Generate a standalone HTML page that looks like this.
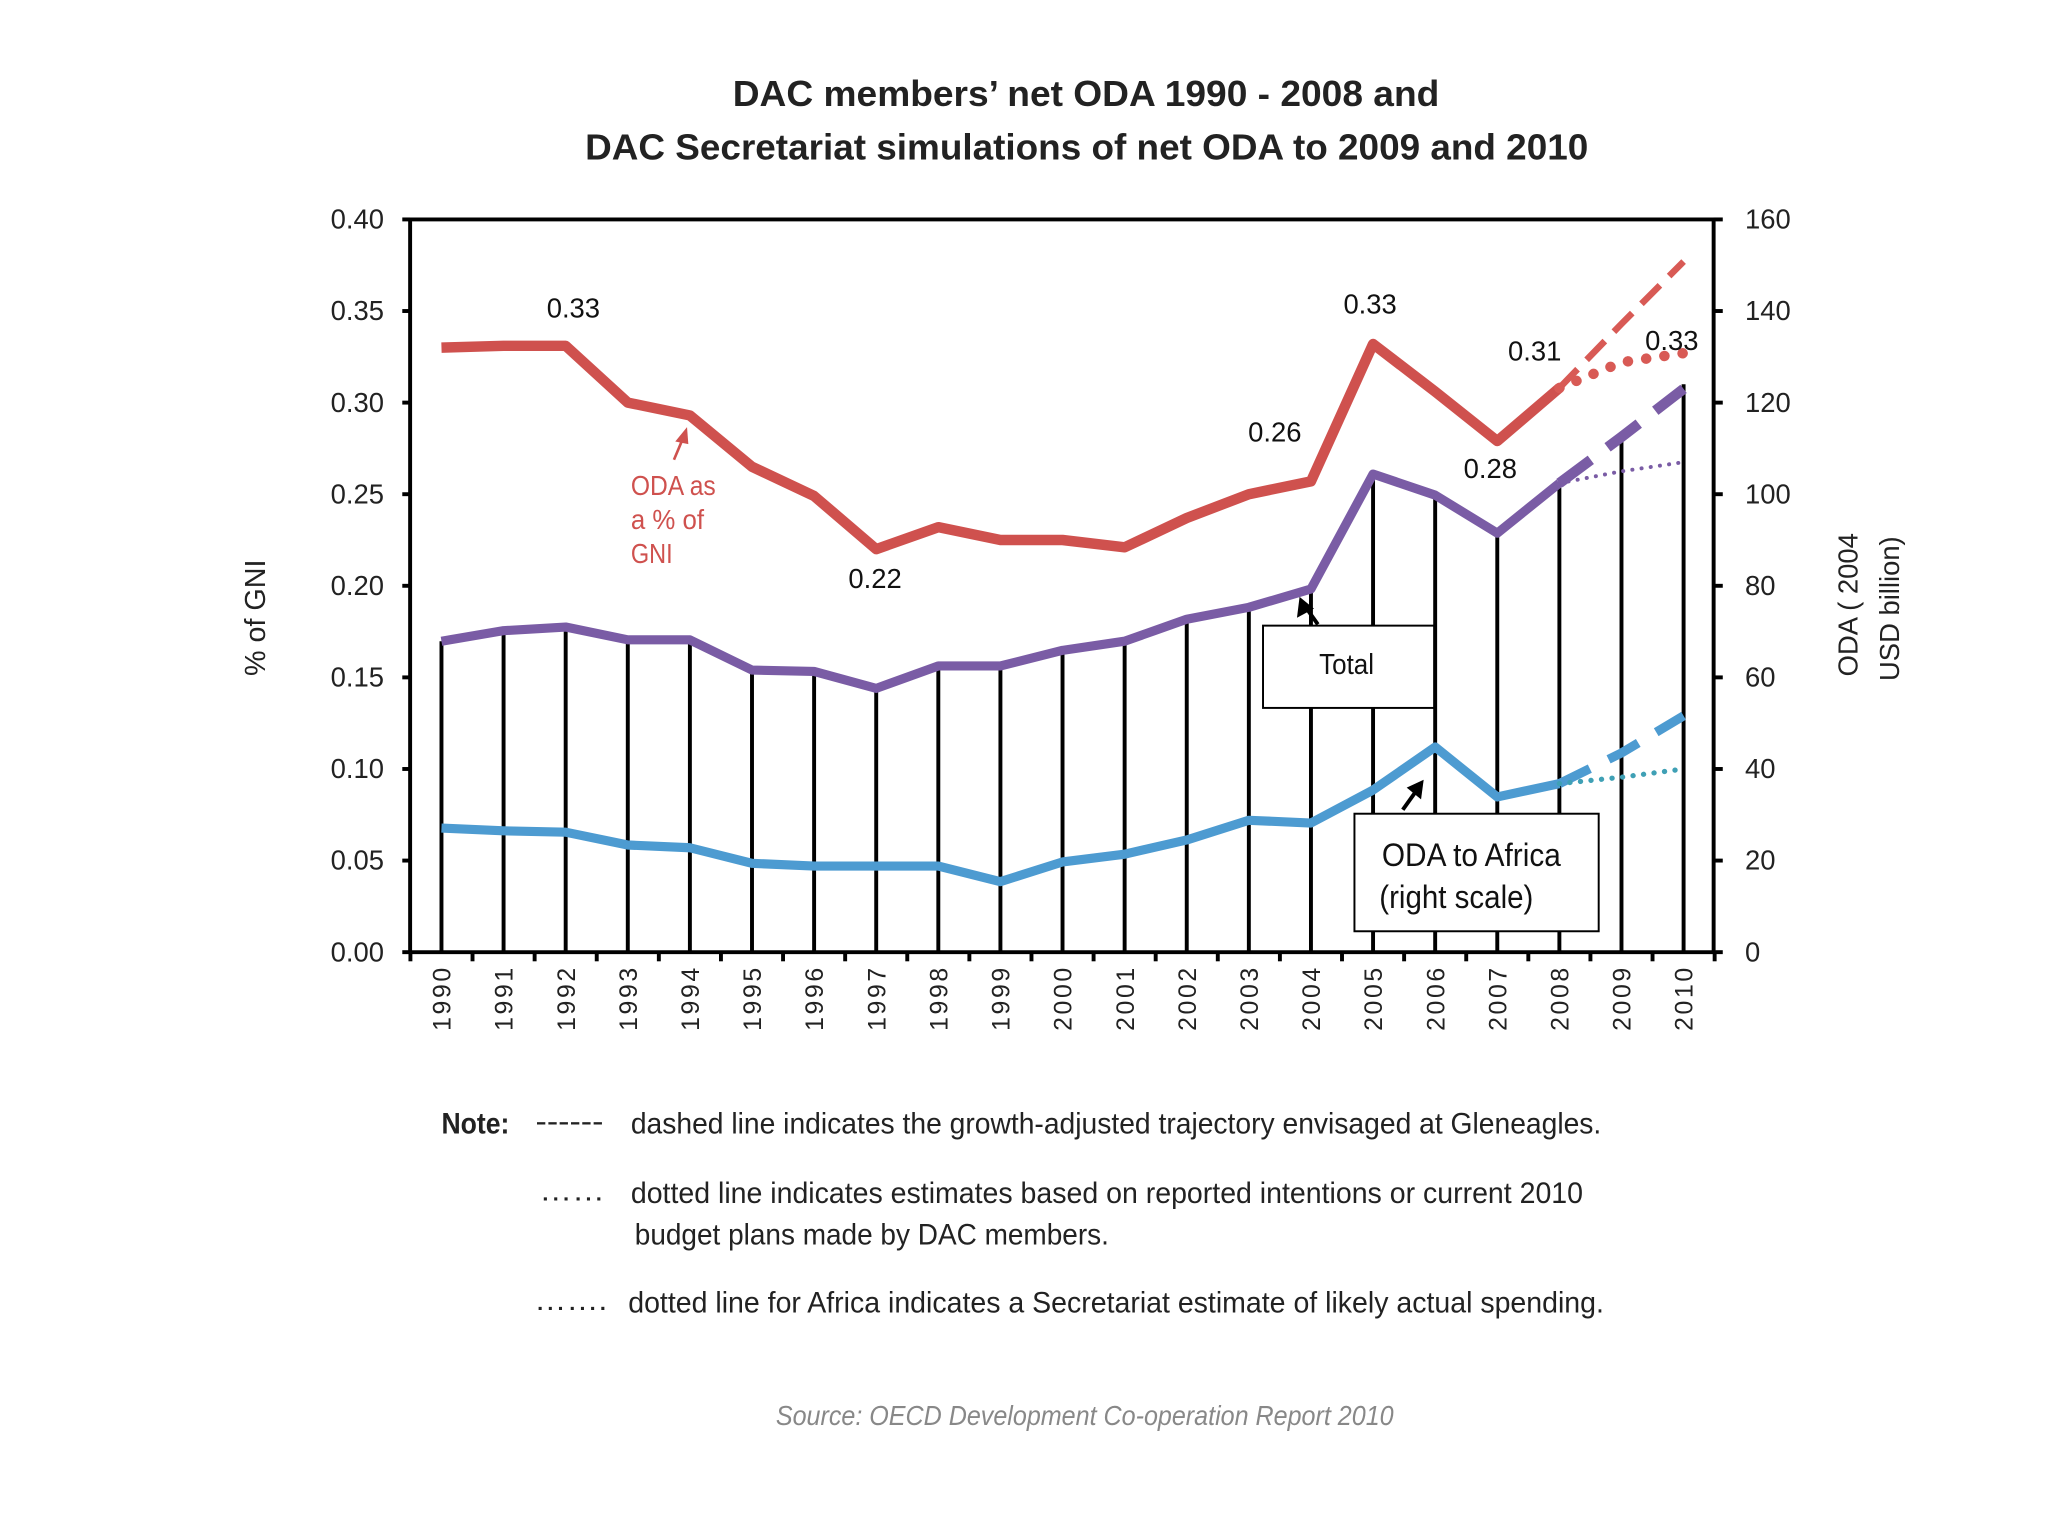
<!DOCTYPE html>
<html><head><meta charset="utf-8"><style>
html,body{margin:0;padding:0;background:#fff;}
svg{display:block;}
text{font-family:"Liberation Sans Narrow","Liberation Sans",sans-serif;}
</style></head><body>
<svg id="chart" width="2048" height="1536" viewBox="0 0 1568 1176" xmlns="http://www.w3.org/2000/svg">
<rect width="1568" height="1176" fill="#fff"/>
<g id="titles">
<text x="561" y="81" textLength="541" lengthAdjust="spacingAndGlyphs" font-size="28" font-weight="bold" fill="#222">DAC members’ net ODA 1990 - 2008 and</text>
<text x="448" y="122" textLength="768" lengthAdjust="spacingAndGlyphs" font-size="28" font-weight="bold" fill="#222">DAC Secretariat simulations of net ODA to 2009 and 2010</text>
<text transform="translate(203,473) rotate(-90)" text-anchor="middle" font-size="22" font-family="Liberation Sans" fill="#222">% of GNI</text>
<text transform="translate(1422,463) rotate(-90)" text-anchor="middle" font-size="21" font-family="Liberation Sans" fill="#222">ODA ( 2004</text>
<text transform="translate(1454,466) rotate(-90)" text-anchor="middle" font-size="21" font-family="Liberation Sans" fill="#222">USD billion)</text>
</g>
<g id="plot"></g>
<g id="notes" fill="#222" font-size="23">
<text x="338" y="868" textLength="52" lengthAdjust="spacingAndGlyphs" font-weight="bold">Note:</text>
<text x="410" y="866" textLength="52" lengthAdjust="spacingAndGlyphs">------</text>
<text x="483" y="868" textLength="743" lengthAdjust="spacingAndGlyphs">dashed line indicates the growth-adjusted trajectory envisaged at Gleneagles.</text>
<text x="413" y="919" textLength="50" lengthAdjust="spacingAndGlyphs">……</text>
<text x="483" y="921" textLength="729" lengthAdjust="spacingAndGlyphs">dotted line indicates estimates based on reported intentions or current 2010</text>
<text x="486" y="953" textLength="363" lengthAdjust="spacingAndGlyphs">budget plans made by DAC members.</text>
<text x="409" y="1003" textLength="56" lengthAdjust="spacingAndGlyphs">…….</text>
<text x="481" y="1005" textLength="747" lengthAdjust="spacingAndGlyphs">dotted line for Africa indicates a Secretariat estimate of likely actual spending.</text>
<text x="594" y="1091" textLength="473" lengthAdjust="spacingAndGlyphs" font-size="21" font-style="italic" fill="#888">Source: OECD Development Co-operation Report 2010</text>
</g>
</svg>
<script>
const years = [1990,1991,1992,1993,1994,1995,1996,1997,1998,1999,2000,2001,2002,2003,2004,2005,2006,2007,2008,2009,2010];
const gniPct = [0.330,0.331,0.331,0.300,0.293,0.265,0.249,0.220,0.232,0.225,0.225,0.221,0.237,0.250,0.257,0.332,0.306,0.279,0.308];
const gniDashed = [0.308,0.343,0.377];
const gniDotted = [0.308,0.322,0.327];
const totalOda = [67.9,70.2,71.0,68.2,68.2,61.6,61.3,57.6,62.5,62.5,65.9,67.9,72.7,75.3,79.3,104.4,99.8,91.5,102.4];
const totalDashed = [102.4,112.5,123.0];
const totalDotted = [102.4,105.0,107.0];
const barValues = [67.9,70.2,71.0,68.2,68.2,61.6,61.3,57.6,62.5,62.5,65.9,67.9,72.7,75.3,79.3,104.4,99.8,91.5,102.4,112.0,124.0];
const africaOda = [27.1,26.5,26.2,23.4,22.8,19.4,18.8,18.8,18.8,15.4,19.7,21.4,24.5,28.8,28.2,35.4,44.8,33.9,36.8];
const africaDashed = [36.8,43.5,51.6];
const africaDotted = [36.8,38.2,40.0];
const leftTicks = ["0.00","0.05","0.10","0.15","0.20","0.25","0.30","0.35","0.40"];
const rightTicks = ["0","20","40","60","80","100","120","140","160"];

const NS="http://www.w3.org/2000/svg";
const g=document.getElementById('plot');
const L=314,R=1312,T=168,B=729;
const x0=338,x1=1289;
const xs=i=>x0+(x1-x0)*i/(years.length-1);
const yl=v=>B-(B-T)*v/0.4;
const yr=v=>B-(B-T)*v/160;
function el(tag,attrs,parent){const e=document.createElementNS(NS,tag);for(const k in attrs)e.setAttribute(k,attrs[k]);(parent||g).appendChild(e);return e;}

barValues.forEach((v,i)=>{
  const b=el('line',{x1:xs(i),x2:xs(i),y1:B,y2:yr(v),stroke:'#000','stroke-width':3});
  
  
});
const frame=el('path',{d:`M${L},${B}V${T}H${R}V${B}H${L}`,fill:'none',stroke:'#000','stroke-width':3});


leftTicks.forEach((t,i)=>{
  const y=B-(B-T)*i/8;
  el('line',{x1:L-6,x2:L,y1:y,y2:y,stroke:'#000','stroke-width':3});
  const tx=el('text',{x:L-20,y:y+7,'text-anchor':'end','font-size':21,'font-family':'Liberation Sans',fill:'#222'});
  tx.textContent=t;
  
  
});
rightTicks.forEach((t,i)=>{
  const y=B-(B-T)*i/8;
  el('line',{x1:R,x2:R+7,y1:y,y2:y,stroke:'#000','stroke-width':3});
  const tx=el('text',{x:R+24,y:y+7,'font-size':21,'font-family':'Liberation Sans',fill:'#222'});
  tx.textContent=t;
  
  
});
const step=(x1-x0)/(years.length-1);
for(let i=0;i<=years.length;i++){
  const x=x0-step/2+i*step;
  el('line',{x1:x,x2:x,y1:B,y2:B+7,stroke:'#000','stroke-width':3});
}
years.forEach((yv,i)=>{
  const tx=el('text',{transform:`translate(${xs(i)+7},${B+10}) rotate(-90)`,'text-anchor':'end','font-size':19,'font-family':'Liberation Sans','letter-spacing':'2',fill:'#222'});
  tx.textContent=yv;
  
  
});
function line(vals,off,yf,color,w,dash,name,cap){
  const p=el('polyline',{points:vals.map((v,i)=>xs(i+off)+','+yf(v)).join(' '),fill:'none',stroke:color,'stroke-width':w,'stroke-linejoin':'round','stroke-linecap':cap||'butt'});
  if(dash)p.setAttribute('stroke-dasharray',dash);
  
  
}
const n=gniPct.length-1;
line(gniPct,0,yl,'#cf514e',8,null,'gni-line');
line(gniDashed,n,yl,'#d85a55',5,'20 10','gni-dashed');
line(gniDotted,n,yl,'#d85a55',8,'0.1 14','gni-dotted','round');
line(totalOda,0,yr,'#7a5ca5',7,null,'total-line');
line(totalDashed,n,yr,'#7a5ca5',8,'30 16','total-dashed');
line(totalDotted,n,yr,'#7a5ca5',3,'0.1 7','total-dotted','round');
line(africaOda,0,yr,'#4d9bd1',7,null,'africa-line');
line(africaDashed,n,yr,'#4d9bd1',7,'26 16','africa-dashed');
line(africaDotted,n,yr,'#3fa0b5',4,'0.1 8','africa-dotted','round');

[["0.33",439,243],["0.22",670,450],["0.26",976,338],["0.33",1049,240],["0.31",1175,276],["0.28",1141,366],["0.33",1280,268]].forEach(a=>{
  const t=el('text',{x:a[1],y:a[2],'text-anchor':'middle','font-size':21,'font-family':'Liberation Sans',fill:'#111'});
  t.textContent=a[0];
  
  
});
[['ODA as',65],['a % of',56],['GNI',32]].forEach((s,i)=>{
  const t=el('text',{x:483,y:379+i*26,'font-size':21,fill:'#cf514e',textLength:s[1],lengthAdjust:'spacingAndGlyphs'});
  t.textContent=s[0];
  
  
});
el('line',{x1:516,y1:352,x2:524,y2:333,stroke:'#cf514e','stroke-width':2});
el('path',{d:'M526,327 L517,338 L527,340Z',fill:'#cf514e'});
const tb=el('rect',{x:967,y:479,width:131,height:63,fill:'#fff',stroke:'#000','stroke-width':1.5});


const tt=el('text',{x:1010,y:516,'font-size':22,fill:'#111',textLength:42,lengthAdjust:'spacingAndGlyphs'});
tt.textContent='Total';


el('line',{x1:1009,y1:478,x2:999,y2:464,stroke:'#000','stroke-width':3});
el('path',{d:'M995,457 L993,473 L1006,466Z',fill:'#000'});
const ab=el('rect',{x:1037,y:623,width:187,height:90,fill:'#fff',stroke:'#000','stroke-width':1.5});


const at1=el('text',{x:1058,y:663,'font-size':25,fill:'#111',textLength:137,lengthAdjust:'spacingAndGlyphs'});
at1.textContent='ODA to Africa';


const at2=el('text',{x:1056,y:695,'font-size':25,fill:'#111',textLength:118,lengthAdjust:'spacingAndGlyphs'});
at2.textContent='(right scale)';


el('line',{x1:1074,y1:620,x2:1084,y2:606,stroke:'#000','stroke-width':3});
el('path',{d:'M1090,597 L1077,603 L1088,612Z',fill:'#000'});
</script>
</body></html>
